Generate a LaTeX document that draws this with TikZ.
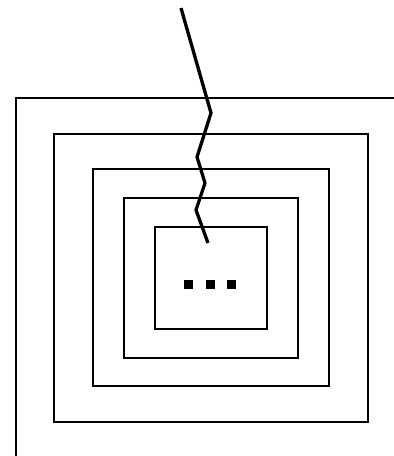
\documentclass[tikz,border=0pt]{standalone}
\begin{document}
\begin{tikzpicture}[x=1pt,y=-1pt,
  frame/.style={line width=2.2pt,line join=miter},
  crack/.style={line width=3.3pt,line join=miter},
  dotsq/.style={fill=black}]
\useasboundingbox (0,0) rectangle (394,456);
\draw[frame] (16,456) -- (16,98) -- (394,98);
\draw[frame] (54,134) rectangle (368,422);
\draw[frame] (93,169) rectangle (329,386);
\draw[frame] (124,198) rectangle (298,358);
\draw[frame] (155,227) rectangle (267,329);
\draw[crack] (181,8) -- (211,113) -- (197,157) -- (205,183) -- (196,210) -- (208,243);
\foreach \cx in {188,210,231}
  \fill[dotsq] (\cx-4.5,279.5) rectangle (\cx+4.5,288.5);
\end{tikzpicture}
\end{document}
